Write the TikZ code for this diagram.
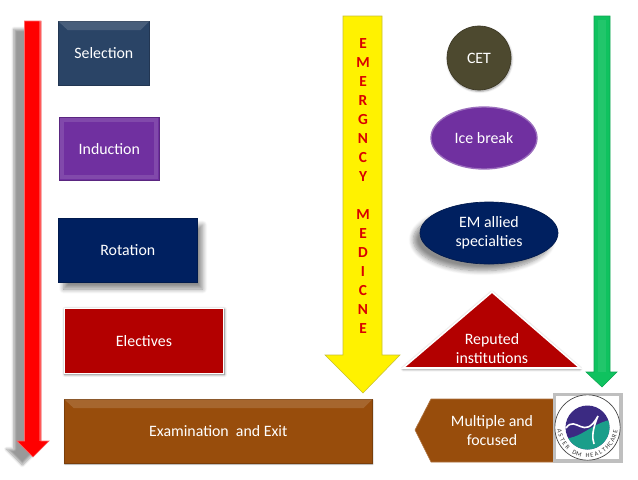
\documentclass[tikz,border=0pt]{standalone}
\usepackage{fontspec}
\setmainfont{Carlito}
\usepackage{xcolor}
\usetikzlibrary{arrows.meta, positioning, shapes.geometric, shadows.blur}
\definecolor{selblue}{HTML}{2A4466}
\definecolor{indpurple}{HTML}{7030A0}
\definecolor{rotnavy}{HTML}{002060}
\definecolor{elecred}{HTML}{B30000}
\definecolor{exambrown}{HTML}{984D0C}
\definecolor{cetolive}{HTML}{4D492F}
\definecolor{refgreen}{HTML}{0FC25F}
\definecolor{logoteal}{HTML}{1A9E8A}
\definecolor{logopurple}{HTML}{3B2A82}

\begin{document}
\begin{tikzpicture}[
    x=0.75pt, y=-0.75pt,
    label font/.style={font=\fontsize{11.9}{14.25}\selectfont},
    card/.style={draw=#1!80!black, fill=#1, line width=0.5pt, inner sep=0pt, text=white, align=center, label font},
    card/.default=selblue,
    softshadow/.style={blur shadow={shadow xshift=#1, shadow yshift=-5pt, shadow blur steps=8, shadow blur radius=3.5pt, shadow opacity=45}},
    bevel/.style={draw=none, fill=white, fill opacity=0.14},
    redarrow/.style={fill=red, draw=red!60!white, line width=0.5pt},
    lettering/.style={text=red!85!black, align=center, font=\fontsize{11.5}{14.25}\selectfont\bfseries},
    logoletter/.style={inner sep=0pt, text=black!80, font=\fontsize{4.8}{5}\selectfont}
]
    \useasboundingbox (0,0) rectangle (638,479);

    % left column
    \node[card=selblue, minimum width=68.25pt, minimum height=48pt, anchor=north west] (selection) at (58,21) {Selection};
    \fill[bevel] (selection.north west) -- (selection.north east) -- ++(-9,9) -- ++(-73,0) -- cycle;
    \node[card=indpurple, minimum width=75pt, minimum height=47.25pt, anchor=north west] (induction) at (59,117) {Induction};
    \draw[white, opacity=0.12, line width=3pt] (62,120) rectangle (156,177);
    \node[card=rotnavy, minimum width=104.25pt, minimum height=48pt, anchor=north west, softshadow=4pt] (rotation) at (58,218) {Rotation};
    \node[card=elecred, draw=white, line width=1.2pt, minimum width=119.5pt, minimum height=49pt, anchor=north west, blur shadow={shadow xshift=0.5pt, shadow yshift=-0.7pt, shadow blur radius=2pt, shadow opacity=60}] (electives) at (63.5,307.5) {Electives};
    \node[card=exambrown, minimum width=231pt, minimum height=48pt, anchor=north west, blur shadow={shadow xshift=0.4pt, shadow yshift=-0.6pt, shadow blur radius=1pt, shadow opacity=40}] (exam) at (64,399) {Examination\ \ and Exit};
    \fill[bevel] (exam.north west) -- (exam.north east) -- ++(-9,9) -- ++(-290,0) -- cycle;

    % arrows
    \path[fill=black!35, blur shadow={shadow xshift=-8pt, shadow yshift=-6pt, shadow blur steps=8, shadow opacity=40}] (24.5,21) -- (41,21) -- (41,441) -- (49,441) -- (33,457) -- (17,441) -- (24.5,441) -- cycle;
    \draw[redarrow] (24.5,21) -- (41,21) -- (41,441) -- (49,441) -- (33,457) -- (17,441) -- (24.5,441) -- cycle;
    \fill[white, opacity=0.25] (39,21) rectangle (41,441);
    \draw[fill=yellow, draw=yellow!75!black, line width=0.4pt] (343,16) -- (382,16) -- (382,355) -- (400,355) -- (363,393) -- (325,355) -- (343,355) -- cycle;
    \draw[fill=refgreen, draw=refgreen!85!black, line width=0.4pt] (594,16) -- (610,16) -- (610,372) -- (617,372) -- (602,387) -- (586,372) -- (594,372) -- cycle;
    \fill[white, opacity=0.08] (598,20) rectangle (606,372);

    \node[lettering] (emword) at (363,186) {E\\M\\E\\R\\G\\N\\C\\Y\\[14.25pt]M\\E\\D\\I\\C\\N\\E};

    % right column
    \node[card=cetolive, circle, minimum size=48pt, blur shadow={shadow xshift=0.5pt, shadow yshift=-1pt, shadow blur radius=1.5pt, shadow opacity=40}] (cet) at (479,58) {CET};
    \node[card=indpurple, ellipse, minimum width=79.5pt, minimum height=46.5pt, draw=indpurple!70!white, line width=1pt] (icebreak) at (484,138) {Ice break};
    \node[card=rotnavy, ellipse, minimum width=103.5pt, minimum height=46.5pt, softshadow=-5pt] (emallied) at (489,233) {EM allied\\specialties};
    \draw[fill=elecred, draw=white, line width=1.2pt, blur shadow={shadow xshift=0pt, shadow yshift=-0.7pt, shadow blur radius=2pt, shadow opacity=60}] (492,292) -- (580,368) -- (403,368) -- cycle;
    \node[text=white, align=center, label font] (reputed) at (492,349) {Reputed\\institutions};

    \draw[fill=exambrown, draw=exambrown!80!white, line width=0.5pt] (431,399) -- (555,399) -- (555,462) -- (431,462) -- (415,430) -- cycle;
    \node[text=white, align=center, label font] (multiple) at (492,431) {Multiple and\\focused};

    % logo
    \node[fill=white, draw=black!25, line width=2.5pt, minimum width=50pt, minimum height=50pt, inner sep=0pt] (logobox) at (587.5,427.5) {};
    \draw[black!75, fill=white, line width=0.5pt] (logobox.center) circle[radius=24.5pt];
    \begin{scope}
        \clip (logobox.center) circle[radius=16.5pt];
        \fill[logopurple] (555,390) rectangle (620,470);
        \fill[logoteal] (555,434) .. controls (575,450) and (595,415) .. (620,420) -- (620,470) -- (555,470) -- cycle;
    \end{scope}
    \draw[white, line width=1.2pt] (566,428) .. controls (576,414) and (584,442) .. (598,416) .. controls (592,430) and (592,438) .. (594,444);
    \foreach \ch/\k in {A/0,S/1,T/2,E/3,R/4,D/6,M/7,H/9,E/10,A/11,L/12,T/13,H/14,C/15,A/16,R/17,E/18}
        \node[logoletter, rotate={90-(172-9.11*\k)}] (logo\k) at ({587.5+28*cos(172-9.11*\k)},{427.5+28*sin(172-9.11*\k)}) {\ch};
\end{tikzpicture}
\end{document}
